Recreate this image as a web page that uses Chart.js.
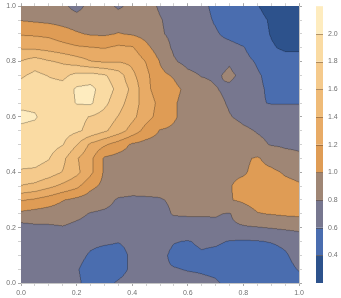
<!DOCTYPE html>
<html>
<head>
<meta charset="utf-8">
<script src="https://cdn.jsdelivr.net/npm/chart.js@4"></script>
<style>
  html, body { margin: 0; padding: 0; background: #fff; }
  #wrap { width: 341px; height: 298px; }
</style>
</head>
<body>
<div id="wrap"><canvas id="contour"></canvas></div>
<script>
// grid positions of the sampled field
const xGrid = [0.00,0.05,0.10,0.15,0.20,0.25,0.30,0.35,0.40,0.45,0.50,0.55,0.60,0.65,0.70,0.75,0.80,0.85,0.90,0.95,1.00];
const yGrid = [1.00,0.95,0.90,0.85,0.80,0.75,0.70,0.65,0.60,0.55,0.50,0.45,0.40,0.35,0.30,0.25,0.20,0.15,0.10,0.05,0.00];

// field values, one row per yGrid entry (top row first)
const zRows = [
  [0.90,0.90,0.90,0.85,0.72,0.88,0.88,0.77,0.85,0.86,0.78,0.72,0.70,0.65,0.55,0.50,0.45,0.41,0.33,0.30,0.30],
  [0.99,0.97,0.95,0.93,0.90,0.90,0.90,0.90,0.90,0.88,0.81,0.75,0.70,0.66,0.58,0.50,0.47,0.45,0.38,0.32,0.30],
  [1.18,1.17,1.15,1.08,1.02,0.98,0.97,1.01,0.98,0.93,0.82,0.76,0.72,0.68,0.62,0.55,0.50,0.47,0.39,0.32,0.30],
  [1.38,1.36,1.33,1.28,1.23,1.21,1.19,1.24,1.22,1.05,0.90,0.77,0.72,0.68,0.66,0.66,0.61,0.50,0.42,0.37,0.37],
  [1.61,1.70,1.62,1.57,1.50,1.41,1.38,1.39,1.35,1.19,0.99,0.82,0.74,0.72,0.72,0.78,0.66,0.58,0.50,0.48,0.48],
  [1.77,1.85,1.79,1.75,1.86,1.88,1.82,1.70,1.45,1.25,1.05,0.98,0.85,0.79,0.77,0.84,0.75,0.62,0.55,0.50,0.50],
  [1.90,1.90,1.88,1.88,2.03,2.06,1.90,1.75,1.55,1.25,1.10,1.05,0.95,0.88,0.81,0.76,0.72,0.63,0.57,0.55,0.55],
  [1.95,1.95,1.90,1.90,2.01,2.03,1.85,1.68,1.50,1.30,1.15,1.02,0.93,0.90,0.85,0.78,0.73,0.62,0.59,0.59,0.59],
  [2.05,2.02,1.90,1.85,1.85,1.79,1.72,1.59,1.45,1.28,1.12,1.02,0.93,0.90,0.88,0.81,0.76,0.73,0.72,0.70,0.70],
  [1.95,1.93,1.90,1.88,1.83,1.75,1.63,1.50,1.32,1.12,0.99,0.97,0.93,0.92,0.90,0.88,0.83,0.79,0.76,0.74,0.73],
  [1.95,1.92,1.88,1.81,1.61,1.36,1.23,1.10,0.97,0.93,0.92,0.92,0.92,0.92,0.92,0.90,0.88,0.84,0.79,0.78,0.78],
  [1.90,1.88,1.81,1.65,1.42,1.25,0.97,0.93,0.92,0.92,0.92,0.92,0.92,0.92,0.94,0.95,0.97,1.02,0.93,0.85,0.82],
  [1.77,1.76,1.70,1.59,1.45,1.25,0.97,0.92,0.90,0.90,0.90,0.90,0.90,0.90,0.93,0.97,0.98,1.05,1.04,0.98,0.95],
  [1.59,1.55,1.45,1.35,1.25,1.05,0.95,0.90,0.87,0.86,0.85,0.87,0.90,0.92,0.95,0.99,1.05,1.10,1.10,1.05,1.02],
  [1.22,1.17,1.10,1.01,0.95,0.90,0.86,0.78,0.77,0.78,0.79,0.82,0.84,0.86,0.90,0.99,1.03,1.08,1.08,1.06,1.05],
  [0.95,0.92,0.90,0.88,0.84,0.79,0.77,0.75,0.74,0.75,0.76,0.81,0.81,0.81,0.81,0.79,0.90,0.99,1.01,1.03,1.04],
  [0.72,0.76,0.77,0.79,0.76,0.74,0.72,0.72,0.72,0.72,0.72,0.74,0.76,0.76,0.77,0.77,0.78,0.79,0.81,0.83,0.85],
  [0.70,0.70,0.70,0.70,0.70,0.66,0.64,0.61,0.66,0.70,0.68,0.61,0.59,0.63,0.63,0.59,0.58,0.59,0.61,0.64,0.68],
  [0.70,0.70,0.70,0.70,0.68,0.57,0.50,0.50,0.65,0.70,0.66,0.55,0.55,0.58,0.55,0.50,0.50,0.50,0.52,0.58,0.66],
  [0.70,0.70,0.70,0.70,0.62,0.50,0.47,0.50,0.65,0.70,0.62,0.61,0.59,0.58,0.56,0.50,0.48,0.48,0.50,0.55,0.61],
  [0.70,0.70,0.70,0.70,0.64,0.52,0.52,0.63,0.70,0.70,0.70,0.68,0.66,0.64,0.62,0.56,0.50,0.48,0.48,0.52,0.55]
];

// contour levels and the fill of each band between them
const levels = [0.2,0.4,0.6,0.8,1.0,1.2,1.4,1.6,1.8,2.0,2.2];
const bandColors = ['#2d528c','#4a6daf','#77778f','#9f8675','#df9c55','#e8ab66','#efbb78','#f5ca8c','#fadba3','#feecbf'];
const barLabels = [0.4,0.6,0.8,1.0,1.2,1.4,1.6,1.8,2.0];

const labelFont = "7px 'Liberation Sans', Arial, sans-serif";
const labelColor = '#707070';
const frameColor = '#c4c4c4';

function hexToRgb(h) {
    return [parseInt(h.slice(1, 3), 16), parseInt(h.slice(3, 5), 16), parseInt(h.slice(5, 7), 16)];
}
const bandRgb = bandColors.map(hexToRgb);

// index + fraction of v inside a monotonic array
function locate(arr, v) {
    const n = arr.length;
    const asc = arr[n - 1] > arr[0];
    for (let i = 0; i < n - 1; i++) {
        const a = arr[i], b = arr[i + 1];
        if (asc ? (v >= a && v <= b) : (v <= a && v >= b)) return [i, (v - a) / (b - a)];
    }
    if (asc ? v < arr[0] : v > arr[0]) return [0, 0];
    return [n - 2, 1];
}

function bandOf(v) {
    let k = 0;
    for (let i = 1; i < levels.length - 1; i++) if (v >= levels[i]) k = i;
    return k;
}

const contourFill = {
    id: 'contourFill',
    beforeDatasetsDraw(chart) {
        const {ctx, chartArea, scales} = chart;
        const sx = scales.x, sy = scales.y;
        const ss = 2; // supersample
        const w = Math.round(chartArea.right - chartArea.left);
        const h = Math.round(chartArea.bottom - chartArea.top);
        const W = w * ss, H = h * ss;

        const colLoc = [];
        for (let i = 0; i < W; i++) colLoc.push(locate(xGrid, sx.getValueForPixel(chartArea.left + (i + 0.5) / ss)));
        const rowLoc = [];
        for (let j = 0; j < H; j++) rowLoc.push(locate(yGrid, sy.getValueForPixel(chartArea.top + (j + 0.5) / ss)));

        const bands = new Uint8Array(W * H);
        for (let j = 0; j < H; j++) {
            const [r, fy] = rowLoc[j];
            const z0 = zRows[r], z1 = zRows[r + 1];
            for (let i = 0; i < W; i++) {
                const [c, fx] = colLoc[i];
                const top = z0[c] * (1 - fx) + z0[c + 1] * fx;
                const bot = z1[c] * (1 - fx) + z1[c + 1] * fx;
                bands[j * W + i] = bandOf(top * (1 - fy) + bot * fy);
            }
        }

        const off = document.createElement('canvas');
        off.width = W; off.height = H;
        const octx = off.getContext('2d');
        const img = octx.createImageData(W, H);
        for (let j = 0; j < H; j++) {
            for (let i = 0; i < W; i++) {
                const p = j * W + i;
                const b = bands[p];
                let edge = false;
                if (i + 1 < W && bands[p + 1] !== b) edge = true;
                if (i > 0 && bands[p - 1] !== b) edge = true;
                if (j + 1 < H && bands[p + W] !== b) edge = true;
                if (j > 0 && bands[p - W] !== b) edge = true;
                const rgb = bandRgb[b];
                const f = edge ? 0.72 : 1;
                img.data[p * 4] = rgb[0] * f;
                img.data[p * 4 + 1] = rgb[1] * f;
                img.data[p * 4 + 2] = rgb[2] * f;
                img.data[p * 4 + 3] = 255;
            }
        }
        octx.putImageData(img, 0, 0);
        ctx.save();
        ctx.imageSmoothingEnabled = true;
        ctx.imageSmoothingQuality = 'high';
        ctx.drawImage(off, chartArea.left, chartArea.top, w, h);
        ctx.restore();
    },
    afterDraw(chart) {
        // legend bar, read through the hidden 'cb' scale
        const {ctx, chartArea, scales} = chart;
        const cb = scales.cb;
        const x0 = chartArea.right + 17, bw = 7;
        ctx.save();
        for (let k = 0; k < bandColors.length; k++) {
            const yTop = cb.getPixelForValue(levels[k + 1]);
            const yBot = cb.getPixelForValue(levels[k]);
            ctx.fillStyle = bandColors[k];
            ctx.fillRect(x0, yTop, bw, yBot - yTop);
        }
        ctx.strokeStyle = 'rgba(90,60,30,0.45)';
        ctx.lineWidth = 1;
        for (let k = 1; k < levels.length - 1; k++) {
            const y = Math.round(cb.getPixelForValue(levels[k])) + 0.5;
            ctx.beginPath();
            ctx.moveTo(x0, y);
            ctx.lineTo(x0 + bw, y);
            ctx.stroke();
        }
        ctx.font = labelFont;
        ctx.fillStyle = labelColor;
        ctx.textBaseline = 'middle';
        ctx.textAlign = 'left';
        barLabels.forEach(v => {
            ctx.fillText(v.toFixed(1), x0 + bw + 5, cb.getPixelForValue(v));
        });
        ctx.restore();
    }
};

function isMajor(v) {
    return Math.round(v * 100) % 20 === 0;
}

const tickGrid = {
    display: true,
    drawOnChartArea: false,
    tickLength: 3,
    color: ctx => (ctx.tick && isMajor(ctx.tick.value)) ? '#a8a8a8' : '#d0d0d0',
    lineWidth: 1
};

new Chart(document.getElementById('contour'), {
    type: 'scatter',
    data: { datasets: [{ data: [], pointRadius: 0 }] },
    options: {
        responsive: true,
        maintainAspectRatio: false,
        animation: false,
        events: [],
        layout: { padding: 0 },
        plugins: { legend: { display: false }, tooltip: { enabled: false } },
        scales: {
            x: {
                type: 'linear', position: 'bottom', min: 0, max: 1,
                grid: tickGrid,
                border: { color: frameColor },
                ticks: {
                    stepSize: 0.05, autoSkip: false, maxRotation: 0, padding: 3,
                    color: labelColor, font: { family: "'Liberation Sans', Arial, sans-serif", size: 7 },
                    callback: v => isMajor(v) ? v.toFixed(1) : ''
                },
                afterFit: s => { s.height = 15; }
            },
            x2: {
                type: 'linear', position: 'top', min: 0, max: 1,
                grid: tickGrid,
                border: { color: frameColor },
                ticks: { display: false, stepSize: 0.05, autoSkip: false },
                afterFit: s => { s.height = 4; }
            },
            y: {
                type: 'linear', position: 'left', min: 0, max: 1,
                grid: tickGrid,
                border: { color: frameColor },
                ticks: {
                    stepSize: 0.05, autoSkip: false, padding: 2,
                    color: labelColor, font: { family: "'Liberation Sans', Arial, sans-serif", size: 7 },
                    callback: v => isMajor(v) ? v.toFixed(1) : ''
                },
                afterFit: s => { s.width = 21; }
            },
            y2: {
                type: 'linear', position: 'right', min: 0, max: 1,
                grid: tickGrid,
                border: { color: frameColor },
                ticks: { display: false, stepSize: 0.05, autoSkip: false },
                afterFit: s => { s.width = 42; }
            },
            cb: {
                type: 'linear', axis: 'y', position: 'right', display: false, min: 0.2, max: 2.2
            }
        }
    },
    plugins: [contourFill]
});
</script>
</body>
</html>
